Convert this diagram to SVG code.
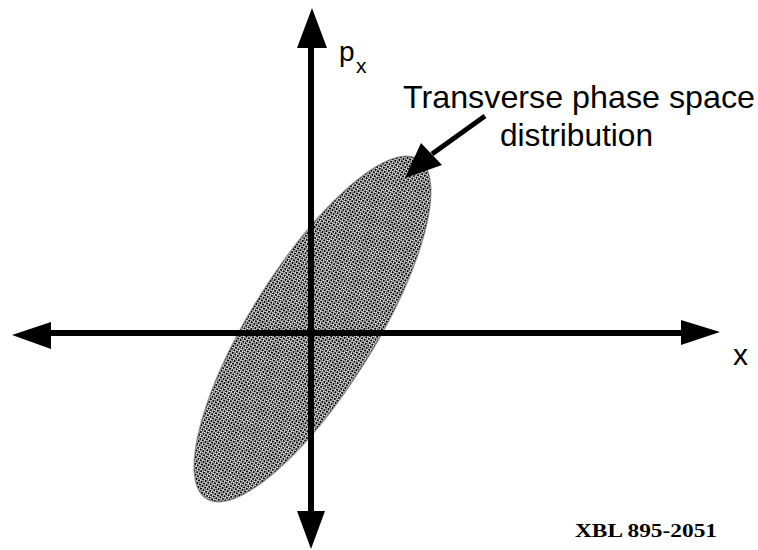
<svg xmlns="http://www.w3.org/2000/svg" width="758" height="550" viewBox="0 0 758 550">
<defs>
<pattern id="dots" width="3" height="3" patternUnits="userSpaceOnUse">
<rect width="3" height="3" fill="#fff"/>
<rect x="0" y="0" width="2" height="2" fill="#000"/>
<rect x="2" y="2" width="1" height="1" fill="#666"/>
</pattern>
<style>
.lbl{font-family:"Liberation Sans",Arial,sans-serif;fill:#000}
.ax{stroke:#000;stroke-width:6;fill:none}
.head{fill:#000}
</style>
</defs>
<rect width="758" height="550" fill="#fff"/>
<g id="distribution">
<ellipse cx="312.5" cy="329" rx="200" ry="62" transform="rotate(-58 312.5 329)" fill="url(#dots)" stroke="#444" stroke-width="1.5" stroke-opacity="0.5"/>
</g>
<g id="connectors">
<line class="ax" x1="311" y1="44" x2="311" y2="514"/>
<path class="head" d="M312,8 L327,48 L297,48 z"/>
<path class="head" d="M311,549 L325,511 L297,511 z"/>
<line class="ax" x1="48" y1="333" x2="684" y2="333"/>
<path class="head" d="M12,335 L51,322 L51,349 z"/>
<path class="head" d="M720,332 L681,320 L681,345 z"/>
<line x1="485" y1="116" x2="432" y2="154" stroke="#000" stroke-width="5"/>
<path class="head" d="M405,178 L421,143 L442,165 z"/>
</g>
<g id="labels">
<text class="lbl" x="339" y="61" font-size="28">p</text>
<text class="lbl" x="356" y="73" font-size="21">x</text>
<text class="lbl" x="403" y="108" font-size="32" textLength="352" lengthAdjust="spacingAndGlyphs">Transverse phase space</text>
<text class="lbl" x="500" y="146" font-size="32" textLength="153" lengthAdjust="spacingAndGlyphs">distribution</text>
<text class="lbl" x="733" y="365" font-size="30">x</text>
<text x="575" y="537" font-family="'Liberation Serif','Times New Roman',serif" font-weight="bold" font-size="18" textLength="142" lengthAdjust="spacingAndGlyphs">XBL 895-2051</text>
</g>
</svg>
